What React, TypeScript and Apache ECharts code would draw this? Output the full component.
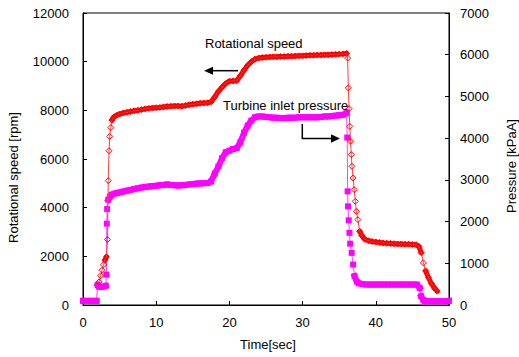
import React, { useEffect, useRef } from "react";
import * as echarts from "echarts";

// Rotational speed [rpm] vs time [sec]
const speedTime = [
  2.2, 2.4, 2.6, 2.8, 3.0, 3.2, 3.35, 3.45, 3.55, 3.65, 3.8, 3.95, 4.2, 4.6, 5.0, 5.5, 6.0, 6.5, 7.0, 7.5,
  8.0, 8.5, 9.0, 9.5, 10.0, 10.5, 11.0, 11.5, 12.0, 12.5, 13.0, 13.5, 14.0, 14.5, 15.0, 15.5, 16.0, 16.5,
  17.0, 17.5, 18.0, 18.5, 19.0, 19.5, 20.0, 20.5, 21.0, 21.5, 22.0, 22.5, 23.0, 23.5, 24.0, 24.5, 25.0,
  25.5, 26.0, 26.5, 27.0, 27.5, 28.0, 28.5, 29.0, 29.5, 30.0, 30.5, 31.0, 31.5, 32.0, 32.5, 33.0, 33.5,
  34.0, 34.5, 35.0, 35.5, 36.0, 36.15, 36.25, 36.35, 36.45, 36.55, 36.65, 36.75, 36.9, 37.05, 37.2, 37.35,
  37.55, 37.8, 38.1, 38.5, 39.0, 39.5, 40.0, 40.5, 41.0, 41.5, 42.0, 42.5, 43.0, 43.5, 44.0, 44.5, 45.0,
  45.5, 45.9, 46.2, 46.5, 46.8, 47.2, 47.6, 48.0, 48.4,
];
const speedRpm = [
  950, 1200, 1430, 1650, 1850, 1980, 2690, 5110, 6340, 6930, 7290, 7600, 7720, 7800, 7850, 7890, 7920, 7950, 7980, 8000,
  8030, 8060, 8080, 8100, 8110, 8120, 8140, 8160, 8170, 8180, 8180, 8170, 8200, 8230, 8250, 8270, 8290, 8300,
  8310, 8350, 8550, 8780, 8950, 9100, 9200, 9210, 9220, 9420, 9650, 9850, 10000, 10100, 10150, 10170, 10180,
  10190, 10200, 10200, 10210, 10210, 10220, 10220, 10230, 10240, 10240, 10250, 10260, 10260, 10270, 10270, 10280, 10280,
  10290, 10300, 10310, 10320, 10340, 10150, 8920, 8070, 7340, 6730, 6180, 5700, 5220, 4740, 4260, 3850,
  3510, 3030, 2850, 2700, 2640, 2610, 2590, 2570, 2550, 2540, 2530, 2520, 2510, 2510, 2500, 2500, 2490,
  2480, 2400, 2150, 1730, 1400, 1120, 880, 700, 570,
];

// Turbine inlet pressure [kPaA] vs time [sec]
const pressureTime = [
  0, 0.5, 1.0, 1.5, 1.85, 2.0, 2.2, 2.5, 2.8, 3.1, 3.2, 3.25, 3.3, 3.45, 3.7, 3.9, 4.3, 4.7, 5.1, 5.5, 6.0,
  6.5, 7.0, 7.5, 8.0, 8.5, 9.0, 9.5, 10.0, 10.5, 11.0, 11.5, 12.0, 12.5, 13.0, 13.5, 14.0, 14.5, 15.0, 15.5,
  16.0, 16.5, 17.0, 17.5, 18.0, 18.5, 19.0, 19.5, 20.0, 20.5, 21.0, 21.5, 22.0, 22.5, 23.0, 23.5, 24.0, 24.5,
  25.0, 25.5, 26.0, 26.5, 27.0, 27.5, 28.0, 28.5, 29.0, 29.5, 30.0, 30.5, 31.0, 31.5, 32.0, 32.5, 33.0, 33.5,
  34.0, 34.5, 35.0, 35.5, 36.0, 36.1, 36.15, 36.2, 36.3, 36.4, 36.5, 36.7, 36.9, 37.1, 37.4, 37.7, 38.2, 38.7,
  39.2, 39.7, 40.2, 40.7, 41.2, 41.7, 42.2, 42.7, 43.2, 43.7, 44.2, 44.7, 45.2, 45.6, 46.0, 46.2, 46.5, 46.7,
  47.0, 47.5, 48.0, 48.5, 49.0, 49.5, 50.0,
];
const pressureKpa = [
  100, 100, 100, 100, 100, 480, 440, 430, 440, 460, 730, 1950, 2300, 2525, 2600, 2645, 2670, 2690, 2700, 2720, 2740,
  2760, 2780, 2800, 2815, 2830, 2840, 2850, 2860, 2870, 2880, 2890, 2880, 2870, 2865, 2870, 2880, 2890, 2900, 2910,
  2915, 2920, 2925, 2960, 3150, 3320, 3520, 3660, 3700, 3740, 3760, 3900, 4130, 4300, 4420, 4500, 4520, 4520,
  4510, 4500, 4490, 4490, 4480, 4480, 4490, 4490, 4490, 4500, 4500, 4500, 4500, 4500, 4500, 4510, 4520, 4520,
  4530, 4540, 4550, 4560, 4600, 4015, 2725, 2365, 2030, 1730, 1470, 1250, 970, 690, 560, 520, 500, 490,
  490, 490, 490, 490, 490, 490, 490, 490, 490, 490, 490, 490, 490, 490, 410, 210, 120, 90,
  90, 90, 90, 90, 90, 90, 100,
];

const xTicks = { min: 0, max: 50, interval: 10 };
const speedTicks = { min: 0, max: 12000, interval: 2000 };
const pressureTicks = { min: 0, max: 7000, interval: 1000 };

const FONT = "'Liberation Sans', Arial, sans-serif";

const GRID = { left: 83, right: 70, top: 13, bottom: 52 };
const W = 519;
const H = 357;

// Split a sampled curve into runs where it changes slowly on screen; those
// parts were sampled so densely in the original that the markers merge into a band.
function slowRuns(ts: number[], vs: number[], vMax: number, maxSlope: number) {
  const pxPerX = (W - GRID.left - GRID.right) / xTicks.max;
  const pxPerV = (H - GRID.top - GRID.bottom) / vMax;
  const runs: number[][][] = [];
  let cur: number[][] = [];
  for (let i = 0; i < ts.length - 1; i++) {
    const slope = Math.abs((vs[i + 1] - vs[i]) * pxPerV) / Math.max(1e-6, (ts[i + 1] - ts[i]) * pxPerX);
    if (slope <= maxSlope) {
      if (cur.length === 0) cur.push([ts[i], vs[i]]);
      cur.push([ts[i + 1], vs[i + 1]]);
    } else if (cur.length) {
      runs.push(cur);
      cur = [];
    }
  }
  if (cur.length) runs.push(cur);
  return runs;
}

export default function App() {
  const ref = useRef<HTMLDivElement>(null);
  useEffect(() => {
    if (!ref.current) return;
    const chart = echarts.init(ref.current, undefined, { renderer: "svg" });
    const speedData = speedTime.map((t, i) => [t, speedRpm[i]]);
    const pressureData = pressureTime.map((t, i) => [t, pressureKpa[i]]);
    const axisCommon = {
      axisLine: { show: true, lineStyle: { color: "#000", width: 1 } },
      axisTick: { show: true, inside: true, length: 4, lineStyle: { color: "#000" } },
      splitLine: { show: false },
      axisLabel: { color: "#000", fontSize: 13, fontFamily: FONT, formatter: (v: number) => String(v) },
    };
    const pressureBands = slowRuns(pressureTime, pressureKpa, pressureTicks.max, 3).map((run) => ({
      type: "line",
      yAxisIndex: 1,
      data: run,
      symbol: "none",
      silent: true,
      lineStyle: { color: "#ff00ff", width: 6, cap: "square", join: "round" },
      z: 2,
    }));
    const speedBands = slowRuns(speedTime, speedRpm, speedTicks.max, 3).map((run) => ({
      type: "line",
      yAxisIndex: 0,
      data: run,
      symbol: "none",
      silent: true,
      lineStyle: { color: "#ff0000", width: 5, cap: "round", join: "round" },
      z: 4,
    }));
    chart.setOption({
      animation: false,
      backgroundColor: "#fff",
      grid: { ...GRID, show: true, borderColor: "#000", borderWidth: 1, backgroundColor: "transparent" },
      xAxis: {
        type: "value",
        ...xTicks,
        ...axisCommon,
        axisLabel: { ...axisCommon.axisLabel, margin: 11 },
      },
      yAxis: [
        {
          type: "value",
          ...speedTicks,
          ...axisCommon,
          position: "left",
          axisLabel: { ...axisCommon.axisLabel, margin: 14 },
        },
        {
          type: "value",
          ...pressureTicks,
          ...axisCommon,
          position: "right",
          axisLabel: { ...axisCommon.axisLabel, margin: 11 },
        },
      ],
      series: [
        {
          name: "Turbine inlet pressure",
          type: "line",
          yAxisIndex: 1,
          data: pressureData,
          symbol: "rect",
          symbolSize: 6,
          showAllSymbol: true,
          lineStyle: { color: "#ff40ff", width: 1 },
          itemStyle: { color: "#ff00ff", borderWidth: 0 },
          z: 3,
        },
        ...pressureBands,
        {
          name: "Rotational speed",
          type: "line",
          yAxisIndex: 0,
          data: speedData,
          symbol: "diamond",
          symbolSize: 6,
          showAllSymbol: true,
          lineStyle: { color: "#ff4040", width: 1 },
          itemStyle: { color: "rgba(255,255,255,0)", borderColor: "#ff0000", borderWidth: 1 },
          z: 5,
        },
        ...speedBands,
      ],
      graphic: [
        { type: "text", x: 205, y: 43, style: { text: "Rotational speed", font: `13px ${FONT}`, fill: "#000", textVerticalAlign: "middle" }, z: 10 },
        { type: "line", shape: { x1: 238, y1: 70.7, x2: 212, y2: 70.7 }, style: { stroke: "#000", lineWidth: 1.5 }, z: 10 },
        { type: "polygon", shape: { points: [[204, 70.7], [213, 66.7], [213, 74.7]] }, style: { fill: "#000" }, z: 10 },
        { type: "text", x: 223, y: 105, style: { text: "Turbine inlet pressure", font: `13px ${FONT}`, fill: "#000", textVerticalAlign: "middle" }, z: 10 },
        { type: "polyline", shape: { points: [[302.3, 124], [302.3, 138.5], [332, 138.5]] }, style: { stroke: "#000", lineWidth: 1.5, fill: "none" }, z: 10 },
        { type: "polygon", shape: { points: [[340, 138.5], [331, 134.3], [331, 142.7]] }, style: { fill: "#000" }, z: 10 },
        { type: "text", x: 13.5, y: 177.5, rotation: Math.PI / 2, style: { text: "Rotational speed [rpm]", font: `13px ${FONT}`, fill: "#000", textAlign: "center", textVerticalAlign: "middle" }, z: 10 },
        { type: "text", x: 511.5, y: 166, rotation: Math.PI / 2, style: { text: "Pressure [kPaA]", font: `13px ${FONT}`, fill: "#000", textAlign: "center", textVerticalAlign: "middle" }, z: 10 },
        { type: "text", x: 268, y: 344, style: { text: "Time[sec]", font: `13px ${FONT}`, fill: "#000", textAlign: "center", textVerticalAlign: "middle" }, z: 10 },
      ],
    });
    return () => chart.dispose();
  }, []);
  return <div ref={ref} style={{ position: "fixed", left: 0, top: 0, width: W, height: H }} />;
}
